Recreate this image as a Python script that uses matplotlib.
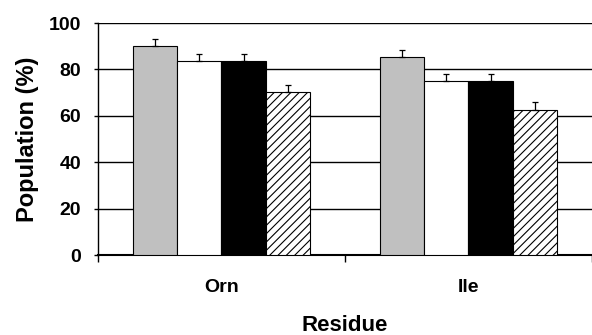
import matplotlib
matplotlib.use("Agg")
import matplotlib.pyplot as plt
import numpy as np

plt.rcParams['font.family'] = ['Liberation Sans', 'DejaVu Sans']
plt.rcParams['font.weight'] = 'bold'
plt.rcParams['hatch.linewidth'] = 0.8

# Data
residues = ['Orn', 'Ile']
series_vals = [
    [90.2, 85.2],   # gray
    [83.5, 75.0],   # white
    [83.5, 75.2],   # black
    [70.2, 62.6],   # hatched
]
series_err = [
    [3.0, 3.2],
    [3.2, 3.1],
    [3.2, 3.0],
    [2.9, 3.2],
]
face_colors = ['#c0c0c0', 'white', 'black', 'white']
hatches = [None, None, None, '////']

fig = plt.figure(figsize=(5.92, 3.35), dpi=100)
ax = fig.add_axes([0.1655, 0.2388, 0.8345, 0.6925])

width = 0.18
centers = np.arange(len(residues)) + 0.5
for i, (vals, errs) in enumerate(zip(series_vals, series_err)):
    xs = centers + (i - 1.5) * width
    ax.bar(xs, vals, width, color=face_colors[i], edgecolor='black',
           linewidth=0.8, hatch=hatches[i], zorder=3)
    ax.errorbar(xs, vals, yerr=[np.zeros(len(errs)), errs], fmt='none',
                ecolor='black', elinewidth=0.9, capsize=2.3, capthick=0.9, zorder=4)

ax.set_ylim(0, 100)
ax.set_yticks([0, 20, 40, 60, 80, 100])
ax.yaxis.grid(True, color='black', linewidth=1.0, zorder=0)
ax.set_axisbelow(True)
ax.set_xlim(0, 1.992)
ax.set_xticks([0, 1, 2])
ax.set_xticklabels([])
ax.set_xticks(centers, minor=True)
ax.set_xticklabels(residues, minor=True, fontsize=14, fontweight='bold')
ax.tick_params(axis='x', which='minor', length=0, pad=17)
ax.tick_params(axis='x', which='major', length=5, width=1, direction='out')
ax.tick_params(axis='y', length=3, width=1, labelsize=14, pad=9)

for s in ['top', 'right']:
    ax.spines[s].set_visible(False)
ax.spines['left'].set_linewidth(1.0)
ax.spines['bottom'].set_linewidth(1.5)

ax.set_ylabel('Population (%)', fontsize=17, fontweight='bold', labelpad=7)
ax.set_xlabel('Residue', fontsize=16, fontweight='bold', labelpad=14)

fig.savefig('out.png', dpi=100)
